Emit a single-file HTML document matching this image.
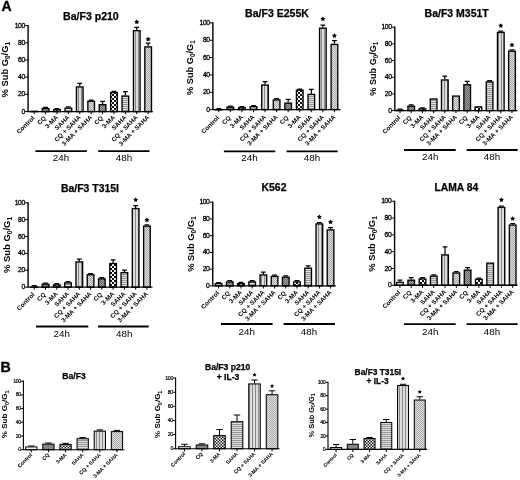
<!DOCTYPE html>
<html><head><meta charset="utf-8"><style>
html,body{margin:0;padding:0;background:#fff;}
svg{display:block;will-change:transform;}
text{font-family:"Liberation Sans", sans-serif;fill:#000;}
</style></head><body>
<svg width="520" height="480" viewBox="0 0 520 480">
<defs>
<pattern id="p_dark" patternUnits="userSpaceOnUse" width="2" height="2"><rect width="2" height="2" fill="#a0a0a0"/><rect width="1" height="1" fill="#686868"/><rect x="1" y="1" width="1" height="1" fill="#686868"/></pattern>
<pattern id="p_checker" patternUnits="userSpaceOnUse" width="4" height="4"><rect width="4" height="4" fill="#111"/><rect width="2" height="2" fill="#fff"/><rect x="2" y="2" width="2" height="2" fill="#fff"/></pattern>
<pattern id="p_hstripe" patternUnits="userSpaceOnUse" width="4" height="2"><rect width="4" height="2" fill="#e2e2e2"/><rect width="4" height="1" fill="#959595"/></pattern>
<pattern id="p_vstripe" patternUnits="userSpaceOnUse" width="3" height="4"><rect width="3" height="4" fill="#dcdcdc"/><rect width="1" height="4" fill="#8a8a8a"/></pattern>
<pattern id="p_checkerB" patternUnits="userSpaceOnUse" width="3" height="3"><rect width="3" height="3" fill="#111"/><rect width="1.55" height="1.55" fill="#fff"/><rect x="1.5" y="1.5" width="1.55" height="1.55" fill="#fff"/></pattern>
<pattern id="p_darkB" patternUnits="userSpaceOnUse" width="2" height="2"><rect width="2" height="2" fill="#939393"/><rect width="1" height="1" fill="#7a7a7a"/><rect x="1" y="1" width="1" height="1" fill="#7a7a7a"/></pattern>
<pattern id="p_ldots" patternUnits="userSpaceOnUse" width="2" height="2"><rect width="2" height="2" fill="#e0e0e0"/><rect width="1" height="1" fill="#a8a8a8"/><rect x="1" y="1" width="1" height="1" fill="#a8a8a8"/></pattern>
</defs>
<rect width="520" height="480" fill="#fff"/>
<text x="1.4" y="10.8" font-size="14" font-weight="bold" stroke="#000" stroke-width="0.35">A</text>
<text x="0.6" y="371.5" font-size="14.2" font-weight="bold" stroke="#000" stroke-width="0.35">B</text>
<g><text x="90.9" y="19.8" font-size="10.55" font-weight="bold" text-anchor="middle" stroke="#000" stroke-width="0.25">Ba/F3 p210</text>
<text transform="translate(8.2,69.7) rotate(-90)" font-size="9.36" font-weight="bold" text-anchor="middle">% Sub G<tspan font-size="6.46" dy="2.09">0</tspan><tspan dy="-2.09">/G</tspan><tspan font-size="6.46" dy="2.09">1</tspan></text>
<rect x="30.85" y="111.27" width="6.65" height="0.33" fill="#fff" stroke="#000" stroke-width="1.35"/>
<path d="M34.18,111.6V114.2" stroke="#000" stroke-width="1"/>
<text transform="translate(34.98,118.5) rotate(-45)" font-size="6.3" font-weight="bold" text-anchor="end" stroke="#000" stroke-width="0.0">Control</text>
<path d="M45.58,107.9V107.3M43.18,107.3H47.98" stroke="#000" stroke-width="1.25" fill="none"/>
<rect x="42.25" y="108.58" width="6.65" height="3.02" fill="url(#p_dark)" stroke="#000" stroke-width="1.35"/>
<path d="M45.58,111.6V114.2" stroke="#000" stroke-width="1"/>
<text transform="translate(46.38,118.5) rotate(-45)" font-size="6.3" font-weight="bold" text-anchor="end" stroke="#000" stroke-width="0.0">CQ</text>
<path d="M56.97,109.1V108.6M54.57,108.6H59.37" stroke="#000" stroke-width="1.25" fill="none"/>
<rect x="53.65" y="109.77" width="6.65" height="1.83" fill="url(#p_checker)" stroke="#000" stroke-width="1.35"/>
<path d="M56.97,111.6V114.2" stroke="#000" stroke-width="1"/>
<text transform="translate(58.48,117.79) rotate(-45)" font-size="6.3" font-weight="bold" text-anchor="end" stroke="#000" stroke-width="0.0">3-MA</text>
<path d="M68.37,107.5V106.8M65.97,106.8H70.77" stroke="#000" stroke-width="1.25" fill="none"/>
<rect x="65.05" y="108.17" width="6.65" height="3.42" fill="url(#p_hstripe)" stroke="#000" stroke-width="1.35"/>
<path d="M68.37,111.6V114.2" stroke="#000" stroke-width="1"/>
<text transform="translate(69.88,117.79) rotate(-45)" font-size="6.3" font-weight="bold" text-anchor="end" stroke="#000" stroke-width="0.0">SAHA</text>
<path d="M79.77,86.25V83.4M77.37,83.4H82.17" stroke="#000" stroke-width="1.25" fill="none"/>
<rect x="76.44" y="86.92" width="6.65" height="24.67" fill="url(#p_vstripe)" stroke="#000" stroke-width="1.35"/>
<path d="M79.77,111.6V114.2" stroke="#000" stroke-width="1"/>
<text transform="translate(81.28,117.79) rotate(-45)" font-size="6.3" font-weight="bold" text-anchor="end" stroke="#000" stroke-width="0.0">CQ + SAHA</text>
<path d="M91.17,100.6V100M88.77,100H93.57" stroke="#000" stroke-width="1.25" fill="none"/>
<rect x="87.84" y="101.27" width="6.65" height="10.33" fill="url(#p_ldots)" stroke="#000" stroke-width="1.35"/>
<path d="M91.17,111.6V114.2" stroke="#000" stroke-width="1"/>
<text transform="translate(92.68,117.79) rotate(-45)" font-size="6.3" font-weight="bold" text-anchor="end" stroke="#000" stroke-width="0.0">3-MA + SAHA</text>
<path d="M102.57,104V101.25M100.17,101.25H104.97" stroke="#000" stroke-width="1.25" fill="none"/>
<rect x="99.24" y="104.67" width="6.65" height="6.92" fill="url(#p_dark)" stroke="#000" stroke-width="1.35"/>
<path d="M102.57,111.6V114.2" stroke="#000" stroke-width="1"/>
<text transform="translate(103.37,118.5) rotate(-45)" font-size="6.3" font-weight="bold" text-anchor="end" stroke="#000" stroke-width="0.0">CQ</text>
<path d="M113.96,91.9V91.4M111.56,91.4H116.36" stroke="#000" stroke-width="1.25" fill="none"/>
<rect x="110.64" y="92.58" width="6.65" height="19.02" fill="url(#p_checker)" stroke="#000" stroke-width="1.35"/>
<path d="M113.96,111.6V114.2" stroke="#000" stroke-width="1"/>
<text transform="translate(115.47,117.79) rotate(-45)" font-size="6.3" font-weight="bold" text-anchor="end" stroke="#000" stroke-width="0.0">3-MA</text>
<path d="M125.36,95.4V91.5M122.96,91.5H127.76" stroke="#000" stroke-width="1.25" fill="none"/>
<rect x="122.04" y="96.08" width="6.65" height="15.52" fill="url(#p_hstripe)" stroke="#000" stroke-width="1.35"/>
<path d="M125.36,111.6V114.2" stroke="#000" stroke-width="1"/>
<text transform="translate(126.87,117.79) rotate(-45)" font-size="6.3" font-weight="bold" text-anchor="end" stroke="#000" stroke-width="0.0">SAHA</text>
<path d="M136.76,30V27.3M134.36,27.3H139.16" stroke="#000" stroke-width="1.25" fill="none"/>
<rect x="133.44" y="30.68" width="6.65" height="80.92" fill="url(#p_vstripe)" stroke="#000" stroke-width="1.35"/>
<path d="M136.76,19.45 L137.59,20.87 L139.19,21.21 L138.09,22.43 L138.26,24.06 L136.76,23.40 L135.26,24.06 L135.43,22.43 L134.34,21.21 L135.94,20.87Z" fill="#000"/>
<path d="M136.76,111.6V114.2" stroke="#000" stroke-width="1"/>
<text transform="translate(138.27,117.79) rotate(-45)" font-size="6.3" font-weight="bold" text-anchor="end" stroke="#000" stroke-width="0.0">CQ + SAHA</text>
<path d="M148.16,46.25V43.1M145.76,43.1H150.56" stroke="#000" stroke-width="1.25" fill="none"/>
<rect x="144.83" y="46.92" width="6.65" height="64.67" fill="url(#p_ldots)" stroke="#000" stroke-width="1.35"/>
<path d="M148.16,36.70 L148.98,38.12 L150.58,38.46 L149.49,39.68 L149.66,41.31 L148.16,40.65 L146.66,41.31 L146.83,39.68 L145.73,38.46 L147.33,38.12Z" fill="#000"/>
<path d="M148.16,111.6V114.2" stroke="#000" stroke-width="1"/>
<text transform="translate(149.67,117.79) rotate(-45)" font-size="6.3" font-weight="bold" text-anchor="end" stroke="#000" stroke-width="0.0">3-MA + SAHA</text>
<path d="M28.1,25V111.6H152.8" stroke="#000" stroke-width="1.4" fill="none"/>
<path d="M24.9,111.6H28.1" stroke="#000" stroke-width="1"/>
<text x="24.82" y="113.64" font-size="6.8" font-weight="normal" text-anchor="end" letter-spacing="-0.42" stroke="#000" stroke-width="0.3">0</text>
<path d="M24.9,94.4H28.1" stroke="#000" stroke-width="1"/>
<text x="24.82" y="96.44" font-size="6.8" font-weight="normal" text-anchor="end" letter-spacing="-0.42" stroke="#000" stroke-width="0.3">20</text>
<path d="M24.9,77.2H28.1" stroke="#000" stroke-width="1"/>
<text x="24.82" y="79.24" font-size="6.8" font-weight="normal" text-anchor="end" letter-spacing="-0.42" stroke="#000" stroke-width="0.3">40</text>
<path d="M24.9,60H28.1" stroke="#000" stroke-width="1"/>
<text x="24.82" y="62.04" font-size="6.8" font-weight="normal" text-anchor="end" letter-spacing="-0.42" stroke="#000" stroke-width="0.3">60</text>
<path d="M24.9,42.8H28.1" stroke="#000" stroke-width="1"/>
<text x="24.82" y="44.84" font-size="6.8" font-weight="normal" text-anchor="end" letter-spacing="-0.42" stroke="#000" stroke-width="0.3">80</text>
<path d="M24.9,25.6H28.1" stroke="#000" stroke-width="1"/>
<text x="24.82" y="27.64" font-size="6.8" font-weight="normal" text-anchor="end" letter-spacing="-0.42" stroke="#000" stroke-width="0.3">100</text>
<path d="M35.4,151.2H86.9" stroke="#000" stroke-width="1.8"/>
<text x="61" y="161.4" font-size="9.8" text-anchor="middle" stroke="#000" stroke-width="0.0">24h</text>
<path d="M98.2,151.2H149.5" stroke="#000" stroke-width="1.8"/>
<text x="124" y="161.4" font-size="9.8" text-anchor="middle" stroke="#000" stroke-width="0.0">48h</text></g>
<g><text x="277" y="16.7" font-size="10.55" font-weight="bold" text-anchor="middle" stroke="#000" stroke-width="0.25">Ba/F3 E255K</text>
<text transform="translate(193.2,67.65) rotate(-90)" font-size="9.26" font-weight="bold" text-anchor="middle">% Sub G<tspan font-size="6.39" dy="2.07">0</tspan><tspan dy="-2.07">/G</tspan><tspan font-size="6.39" dy="2.07">1</tspan></text>
<path d="M218.77,109V108.5M216.37,108.5H221.17" stroke="#000" stroke-width="1.25" fill="none"/>
<rect x="215.44" y="109.67" width="6.65" height="0.2" fill="#fff" stroke="#000" stroke-width="1.35"/>
<path d="M218.77,109.6V112.2" stroke="#000" stroke-width="1"/>
<text transform="translate(219.57,118.25) rotate(-45)" font-size="6.3" font-weight="bold" text-anchor="end" stroke="#000" stroke-width="0.0">Control</text>
<path d="M230.33,106.5V106M227.93,106H232.73" stroke="#000" stroke-width="1.25" fill="none"/>
<rect x="227.01" y="107.17" width="6.65" height="2.42" fill="url(#p_dark)" stroke="#000" stroke-width="1.35"/>
<path d="M230.33,109.6V112.2" stroke="#000" stroke-width="1"/>
<text transform="translate(231.13,118.25) rotate(-45)" font-size="6.3" font-weight="bold" text-anchor="end" stroke="#000" stroke-width="0.0">CQ</text>
<path d="M241.9,107.1V106.5M239.5,106.5H244.3" stroke="#000" stroke-width="1.25" fill="none"/>
<rect x="238.58" y="107.77" width="6.65" height="1.83" fill="url(#p_checker)" stroke="#000" stroke-width="1.35"/>
<path d="M241.9,109.6V112.2" stroke="#000" stroke-width="1"/>
<text transform="translate(243.41,117.54) rotate(-45)" font-size="6.3" font-weight="bold" text-anchor="end" stroke="#000" stroke-width="0.0">3-MA</text>
<path d="M253.47,106V105.5M251.07,105.5H255.87" stroke="#000" stroke-width="1.25" fill="none"/>
<rect x="250.14" y="106.67" width="6.65" height="2.92" fill="url(#p_hstripe)" stroke="#000" stroke-width="1.35"/>
<path d="M253.47,109.6V112.2" stroke="#000" stroke-width="1"/>
<text transform="translate(254.98,117.54) rotate(-45)" font-size="6.3" font-weight="bold" text-anchor="end" stroke="#000" stroke-width="0.0">SAHA</text>
<path d="M265.04,84.4V81.5M262.64,81.5H267.44" stroke="#000" stroke-width="1.25" fill="none"/>
<rect x="261.71" y="85.08" width="6.65" height="24.52" fill="url(#p_vstripe)" stroke="#000" stroke-width="1.35"/>
<path d="M265.04,109.6V112.2" stroke="#000" stroke-width="1"/>
<text transform="translate(266.54,117.54) rotate(-45)" font-size="6.3" font-weight="bold" text-anchor="end" stroke="#000" stroke-width="0.0">CQ + SAHA</text>
<path d="M276.6,99.25V98.7M274.2,98.7H279" stroke="#000" stroke-width="1.25" fill="none"/>
<rect x="273.28" y="99.92" width="6.65" height="9.67" fill="url(#p_ldots)" stroke="#000" stroke-width="1.35"/>
<path d="M276.6,109.6V112.2" stroke="#000" stroke-width="1"/>
<text transform="translate(278.11,117.54) rotate(-45)" font-size="6.3" font-weight="bold" text-anchor="end" stroke="#000" stroke-width="0.0">3-MA + SAHA</text>
<path d="M288.17,102.5V99.25M285.77,99.25H290.57" stroke="#000" stroke-width="1.25" fill="none"/>
<rect x="284.85" y="103.17" width="6.65" height="6.42" fill="url(#p_dark)" stroke="#000" stroke-width="1.35"/>
<path d="M288.17,109.6V112.2" stroke="#000" stroke-width="1"/>
<text transform="translate(288.97,118.25) rotate(-45)" font-size="6.3" font-weight="bold" text-anchor="end" stroke="#000" stroke-width="0.0">CQ</text>
<path d="M299.74,89.5V89M297.34,89H302.14" stroke="#000" stroke-width="1.25" fill="none"/>
<rect x="296.42" y="90.17" width="6.65" height="19.42" fill="url(#p_checker)" stroke="#000" stroke-width="1.35"/>
<path d="M299.74,109.6V112.2" stroke="#000" stroke-width="1"/>
<text transform="translate(301.25,117.54) rotate(-45)" font-size="6.3" font-weight="bold" text-anchor="end" stroke="#000" stroke-width="0.0">3-MA</text>
<path d="M311.31,93.75V89.25M308.91,89.25H313.71" stroke="#000" stroke-width="1.25" fill="none"/>
<rect x="307.98" y="94.42" width="6.65" height="15.17" fill="url(#p_hstripe)" stroke="#000" stroke-width="1.35"/>
<path d="M311.31,109.6V112.2" stroke="#000" stroke-width="1"/>
<text transform="translate(312.81,117.54) rotate(-45)" font-size="6.3" font-weight="bold" text-anchor="end" stroke="#000" stroke-width="0.0">SAHA</text>
<path d="M322.88,27.5V25M320.48,25H325.28" stroke="#000" stroke-width="1.25" fill="none"/>
<rect x="319.55" y="28.18" width="6.65" height="81.42" fill="url(#p_vstripe)" stroke="#000" stroke-width="1.35"/>
<path d="M322.88,16.45 L323.70,17.87 L325.30,18.21 L324.21,19.43 L324.37,21.06 L322.88,20.40 L321.38,21.06 L321.54,19.43 L320.45,18.21 L322.05,17.87Z" fill="#000"/>
<path d="M322.88,109.6V112.2" stroke="#000" stroke-width="1"/>
<text transform="translate(324.38,117.54) rotate(-45)" font-size="6.3" font-weight="bold" text-anchor="end" stroke="#000" stroke-width="0.0">CQ + SAHA</text>
<path d="M334.44,43.75V40.5M332.04,40.5H336.84" stroke="#000" stroke-width="1.25" fill="none"/>
<rect x="331.12" y="44.42" width="6.65" height="65.17" fill="url(#p_ldots)" stroke="#000" stroke-width="1.35"/>
<path d="M334.44,33.20 L335.27,34.62 L336.87,34.96 L335.78,36.18 L335.94,37.81 L334.44,37.15 L332.94,37.81 L333.11,36.18 L332.02,34.96 L333.62,34.62Z" fill="#000"/>
<path d="M334.44,109.6V112.2" stroke="#000" stroke-width="1"/>
<text transform="translate(335.95,117.54) rotate(-45)" font-size="6.3" font-weight="bold" text-anchor="end" stroke="#000" stroke-width="0.0">3-MA + SAHA</text>
<path d="M212.9,22.3V109.6H340.5" stroke="#000" stroke-width="1.4" fill="none"/>
<path d="M209.7,109.6H212.9" stroke="#000" stroke-width="1"/>
<text x="209.62" y="111.64" font-size="6.8" font-weight="normal" text-anchor="end" letter-spacing="-0.42" stroke="#000" stroke-width="0.3">0</text>
<path d="M209.7,92.26H212.9" stroke="#000" stroke-width="1"/>
<text x="209.62" y="94.3" font-size="6.8" font-weight="normal" text-anchor="end" letter-spacing="-0.42" stroke="#000" stroke-width="0.3">20</text>
<path d="M209.7,74.92H212.9" stroke="#000" stroke-width="1"/>
<text x="209.62" y="76.96" font-size="6.8" font-weight="normal" text-anchor="end" letter-spacing="-0.42" stroke="#000" stroke-width="0.3">40</text>
<path d="M209.7,57.58H212.9" stroke="#000" stroke-width="1"/>
<text x="209.62" y="59.62" font-size="6.8" font-weight="normal" text-anchor="end" letter-spacing="-0.42" stroke="#000" stroke-width="0.3">60</text>
<path d="M209.7,40.24H212.9" stroke="#000" stroke-width="1"/>
<text x="209.62" y="42.28" font-size="6.8" font-weight="normal" text-anchor="end" letter-spacing="-0.42" stroke="#000" stroke-width="0.3">80</text>
<path d="M209.7,22.9H212.9" stroke="#000" stroke-width="1"/>
<text x="209.62" y="24.94" font-size="6.8" font-weight="normal" text-anchor="end" letter-spacing="-0.42" stroke="#000" stroke-width="0.3">100</text>
<path d="M223.9,151.4H275.3" stroke="#000" stroke-width="1.8"/>
<text x="249.5" y="161.1" font-size="9.8" text-anchor="middle" stroke="#000" stroke-width="0.0">24h</text>
<path d="M286.5,151.4H337.7" stroke="#000" stroke-width="1.8"/>
<text x="312" y="161.1" font-size="9.8" text-anchor="middle" stroke="#000" stroke-width="0.0">48h</text></g>
<g><text x="456.7" y="16.7" font-size="10.5" font-weight="bold" text-anchor="middle" stroke="#000" stroke-width="0.25">Ba/F3 M351T</text>
<text transform="translate(375.9,68.65) rotate(-90)" font-size="9.11" font-weight="bold" text-anchor="middle">% Sub G<tspan font-size="6.29" dy="2.04">0</tspan><tspan dy="-2.04">/G</tspan><tspan font-size="6.29" dy="2.04">1</tspan></text>
<path d="M400.02,109.5V109M397.62,109H402.42" stroke="#000" stroke-width="1.25" fill="none"/>
<rect x="396.7" y="110.17" width="6.65" height="0.42" fill="#fff" stroke="#000" stroke-width="1.35"/>
<path d="M400.02,110.6V113.2" stroke="#000" stroke-width="1"/>
<text transform="translate(400.82,118.3) rotate(-45)" font-size="6.3" font-weight="bold" text-anchor="end" stroke="#000" stroke-width="0.0">Control</text>
<path d="M411.22,105.5V104.8M408.82,104.8H413.62" stroke="#000" stroke-width="1.25" fill="none"/>
<rect x="407.89" y="106.17" width="6.65" height="4.42" fill="url(#p_dark)" stroke="#000" stroke-width="1.35"/>
<path d="M411.22,110.6V113.2" stroke="#000" stroke-width="1"/>
<text transform="translate(412.02,118.3) rotate(-45)" font-size="6.3" font-weight="bold" text-anchor="end" stroke="#000" stroke-width="0.0">CQ</text>
<path d="M422.41,108.25V107.8M420.01,107.8H424.81" stroke="#000" stroke-width="1.25" fill="none"/>
<rect x="419.09" y="108.92" width="6.65" height="1.67" fill="url(#p_checker)" stroke="#000" stroke-width="1.35"/>
<path d="M422.41,110.6V113.2" stroke="#000" stroke-width="1"/>
<text transform="translate(423.92,117.59) rotate(-45)" font-size="6.3" font-weight="bold" text-anchor="end" stroke="#000" stroke-width="0.0">3-MA</text>
<rect x="430.28" y="98.97" width="6.65" height="11.62" fill="url(#p_hstripe)" stroke="#000" stroke-width="1.35"/>
<path d="M433.61,110.6V113.2" stroke="#000" stroke-width="1"/>
<text transform="translate(435.12,117.59) rotate(-45)" font-size="6.3" font-weight="bold" text-anchor="end" stroke="#000" stroke-width="0.0">SAHA</text>
<path d="M444.8,79.3V76.1M442.4,76.1H447.2" stroke="#000" stroke-width="1.25" fill="none"/>
<rect x="441.48" y="79.97" width="6.65" height="30.62" fill="url(#p_vstripe)" stroke="#000" stroke-width="1.35"/>
<path d="M444.8,110.6V113.2" stroke="#000" stroke-width="1"/>
<text transform="translate(446.31,117.59) rotate(-45)" font-size="6.3" font-weight="bold" text-anchor="end" stroke="#000" stroke-width="0.0">CQ + SAHA</text>
<rect x="452.68" y="96.08" width="6.65" height="14.52" fill="url(#p_ldots)" stroke="#000" stroke-width="1.35"/>
<path d="M456,110.6V113.2" stroke="#000" stroke-width="1"/>
<text transform="translate(457.51,117.59) rotate(-45)" font-size="6.3" font-weight="bold" text-anchor="end" stroke="#000" stroke-width="0.0">3-MA + SAHA</text>
<path d="M467.2,84.1V81.25M464.8,81.25H469.6" stroke="#000" stroke-width="1.25" fill="none"/>
<rect x="463.87" y="84.77" width="6.65" height="25.83" fill="url(#p_dark)" stroke="#000" stroke-width="1.35"/>
<path d="M467.2,110.6V113.2" stroke="#000" stroke-width="1"/>
<text transform="translate(468,118.3) rotate(-45)" font-size="6.3" font-weight="bold" text-anchor="end" stroke="#000" stroke-width="0.0">CQ</text>
<rect x="475.07" y="106.88" width="6.65" height="3.72" fill="url(#p_checker)" stroke="#000" stroke-width="1.35"/>
<path d="M478.39,110.6V113.2" stroke="#000" stroke-width="1"/>
<text transform="translate(479.9,117.59) rotate(-45)" font-size="6.3" font-weight="bold" text-anchor="end" stroke="#000" stroke-width="0.0">3-MA</text>
<path d="M489.59,81.25V80.6M487.19,80.6H491.99" stroke="#000" stroke-width="1.25" fill="none"/>
<rect x="486.26" y="81.92" width="6.65" height="28.67" fill="url(#p_hstripe)" stroke="#000" stroke-width="1.35"/>
<path d="M489.59,110.6V113.2" stroke="#000" stroke-width="1"/>
<text transform="translate(491.09,117.59) rotate(-45)" font-size="6.3" font-weight="bold" text-anchor="end" stroke="#000" stroke-width="0.0">SAHA</text>
<path d="M500.78,31.75V31M498.38,31H503.18" stroke="#000" stroke-width="1.25" fill="none"/>
<rect x="497.46" y="32.42" width="6.65" height="78.17" fill="url(#p_vstripe)" stroke="#000" stroke-width="1.35"/>
<path d="M500.78,23.20 L501.61,24.62 L503.21,24.96 L502.12,26.18 L502.28,27.81 L500.78,27.15 L499.28,27.81 L499.45,26.18 L498.36,24.96 L499.96,24.62Z" fill="#000"/>
<path d="M500.78,110.6V113.2" stroke="#000" stroke-width="1"/>
<text transform="translate(502.29,117.59) rotate(-45)" font-size="6.3" font-weight="bold" text-anchor="end" stroke="#000" stroke-width="0.0">CQ + SAHA</text>
<path d="M511.98,50.5V49.8M509.58,49.8H514.38" stroke="#000" stroke-width="1.25" fill="none"/>
<rect x="508.65" y="51.17" width="6.65" height="59.42" fill="url(#p_ldots)" stroke="#000" stroke-width="1.35"/>
<path d="M511.98,42.45 L512.80,43.87 L514.40,44.21 L513.31,45.43 L513.48,47.06 L511.98,46.40 L510.48,47.06 L510.64,45.43 L509.55,44.21 L511.15,43.87Z" fill="#000"/>
<path d="M511.98,110.6V113.2" stroke="#000" stroke-width="1"/>
<text transform="translate(513.48,117.59) rotate(-45)" font-size="6.3" font-weight="bold" text-anchor="end" stroke="#000" stroke-width="0.0">3-MA + SAHA</text>
<path d="M394.8,26.6V110.6H517.5" stroke="#000" stroke-width="1.4" fill="none"/>
<path d="M391.6,110.6H394.8" stroke="#000" stroke-width="1"/>
<text x="391.52" y="112.64" font-size="6.8" font-weight="normal" text-anchor="end" letter-spacing="-0.42" stroke="#000" stroke-width="0.3">0</text>
<path d="M391.6,93.92H394.8" stroke="#000" stroke-width="1"/>
<text x="391.52" y="95.96" font-size="6.8" font-weight="normal" text-anchor="end" letter-spacing="-0.42" stroke="#000" stroke-width="0.3">20</text>
<path d="M391.6,77.24H394.8" stroke="#000" stroke-width="1"/>
<text x="391.52" y="79.28" font-size="6.8" font-weight="normal" text-anchor="end" letter-spacing="-0.42" stroke="#000" stroke-width="0.3">40</text>
<path d="M391.6,60.56H394.8" stroke="#000" stroke-width="1"/>
<text x="391.52" y="62.6" font-size="6.8" font-weight="normal" text-anchor="end" letter-spacing="-0.42" stroke="#000" stroke-width="0.3">60</text>
<path d="M391.6,43.88H394.8" stroke="#000" stroke-width="1"/>
<text x="391.52" y="45.92" font-size="6.8" font-weight="normal" text-anchor="end" letter-spacing="-0.42" stroke="#000" stroke-width="0.3">80</text>
<path d="M391.6,27.2H394.8" stroke="#000" stroke-width="1"/>
<text x="391.52" y="29.24" font-size="6.8" font-weight="normal" text-anchor="end" letter-spacing="-0.42" stroke="#000" stroke-width="0.3">100</text>
<path d="M404,150H455.7" stroke="#000" stroke-width="1.8"/>
<text x="430.2" y="160" font-size="9.8" text-anchor="middle" stroke="#000" stroke-width="0.0">24h</text>
<path d="M466.6,150H517.7" stroke="#000" stroke-width="1.8"/>
<text x="492" y="160" font-size="9.8" text-anchor="middle" stroke="#000" stroke-width="0.0">48h</text></g>
<g><text x="90" y="191.6" font-size="10.45" font-weight="bold" text-anchor="middle" stroke="#000" stroke-width="0.25">Ba/F3 T315I</text>
<text transform="translate(9.8,245) rotate(-90)" font-size="9.46" font-weight="bold" text-anchor="middle">% Sub G<tspan font-size="6.53" dy="2.11">0</tspan><tspan dy="-2.11">/G</tspan><tspan font-size="6.53" dy="2.11">1</tspan></text>
<path d="M34.23,286.25V285.7M31.83,285.7H36.63" stroke="#000" stroke-width="1.25" fill="none"/>
<rect x="30.91" y="286.93" width="6.65" height="0.2" fill="#fff" stroke="#000" stroke-width="1.35"/>
<path d="M34.23,287.1V289.7" stroke="#000" stroke-width="1"/>
<text transform="translate(35.03,295.1) rotate(-45)" font-size="6.3" font-weight="bold" text-anchor="end" stroke="#000" stroke-width="0.0">Control</text>
<path d="M45.5,283.5V283M43.1,283H47.9" stroke="#000" stroke-width="1.25" fill="none"/>
<rect x="42.18" y="284.18" width="6.65" height="2.93" fill="url(#p_dark)" stroke="#000" stroke-width="1.35"/>
<path d="M45.5,287.1V289.7" stroke="#000" stroke-width="1"/>
<text transform="translate(46.3,295.1) rotate(-45)" font-size="6.3" font-weight="bold" text-anchor="end" stroke="#000" stroke-width="0.0">CQ</text>
<path d="M56.77,284.25V283.7M54.37,283.7H59.17" stroke="#000" stroke-width="1.25" fill="none"/>
<rect x="53.45" y="284.93" width="6.65" height="2.18" fill="url(#p_checker)" stroke="#000" stroke-width="1.35"/>
<path d="M56.77,287.1V289.7" stroke="#000" stroke-width="1"/>
<text transform="translate(58.28,294.39) rotate(-45)" font-size="6.3" font-weight="bold" text-anchor="end" stroke="#000" stroke-width="0.0">3-MA</text>
<path d="M68.04,282.25V281.6M65.64,281.6H70.44" stroke="#000" stroke-width="1.25" fill="none"/>
<rect x="64.71" y="282.93" width="6.65" height="4.18" fill="url(#p_hstripe)" stroke="#000" stroke-width="1.35"/>
<path d="M68.04,287.1V289.7" stroke="#000" stroke-width="1"/>
<text transform="translate(69.55,294.39) rotate(-45)" font-size="6.3" font-weight="bold" text-anchor="end" stroke="#000" stroke-width="0.0">SAHA</text>
<path d="M79.31,261.25V259M76.91,259H81.71" stroke="#000" stroke-width="1.25" fill="none"/>
<rect x="75.98" y="261.93" width="6.65" height="25.18" fill="url(#p_vstripe)" stroke="#000" stroke-width="1.35"/>
<path d="M79.31,287.1V289.7" stroke="#000" stroke-width="1"/>
<text transform="translate(80.82,294.39) rotate(-45)" font-size="6.3" font-weight="bold" text-anchor="end" stroke="#000" stroke-width="0.0">CQ + SAHA</text>
<path d="M90.58,274.1V273.5M88.18,273.5H92.98" stroke="#000" stroke-width="1.25" fill="none"/>
<rect x="87.25" y="274.78" width="6.65" height="12.32" fill="url(#p_ldots)" stroke="#000" stroke-width="1.35"/>
<path d="M90.58,287.1V289.7" stroke="#000" stroke-width="1"/>
<text transform="translate(92.08,294.39) rotate(-45)" font-size="6.3" font-weight="bold" text-anchor="end" stroke="#000" stroke-width="0.0">3-MA + SAHA</text>
<path d="M101.85,278.2V277.6M99.45,277.6H104.25" stroke="#000" stroke-width="1.25" fill="none"/>
<rect x="98.52" y="278.88" width="6.65" height="8.23" fill="url(#p_dark)" stroke="#000" stroke-width="1.35"/>
<path d="M101.85,287.1V289.7" stroke="#000" stroke-width="1"/>
<text transform="translate(102.65,295.1) rotate(-45)" font-size="6.3" font-weight="bold" text-anchor="end" stroke="#000" stroke-width="0.0">CQ</text>
<path d="M113.12,262.9V259.9M110.72,259.9H115.52" stroke="#000" stroke-width="1.25" fill="none"/>
<rect x="109.79" y="263.57" width="6.65" height="23.53" fill="url(#p_checker)" stroke="#000" stroke-width="1.35"/>
<path d="M113.12,287.1V289.7" stroke="#000" stroke-width="1"/>
<text transform="translate(114.62,294.39) rotate(-45)" font-size="6.3" font-weight="bold" text-anchor="end" stroke="#000" stroke-width="0.0">3-MA</text>
<path d="M124.38,272V270.2M121.98,270.2H126.78" stroke="#000" stroke-width="1.25" fill="none"/>
<rect x="121.06" y="272.68" width="6.65" height="14.43" fill="url(#p_hstripe)" stroke="#000" stroke-width="1.35"/>
<path d="M124.38,287.1V289.7" stroke="#000" stroke-width="1"/>
<text transform="translate(125.89,294.39) rotate(-45)" font-size="6.3" font-weight="bold" text-anchor="end" stroke="#000" stroke-width="0.0">SAHA</text>
<path d="M135.65,207.9V205.6M133.25,205.6H138.05" stroke="#000" stroke-width="1.25" fill="none"/>
<rect x="132.33" y="208.58" width="6.65" height="78.53" fill="url(#p_vstripe)" stroke="#000" stroke-width="1.35"/>
<path d="M135.65,197.25 L136.48,198.67 L138.08,199.01 L136.99,200.23 L137.15,201.86 L135.65,201.20 L134.15,201.86 L134.32,200.23 L133.23,199.01 L134.83,198.67Z" fill="#000"/>
<path d="M135.65,287.1V289.7" stroke="#000" stroke-width="1"/>
<text transform="translate(137.16,294.39) rotate(-45)" font-size="6.3" font-weight="bold" text-anchor="end" stroke="#000" stroke-width="0.0">CQ + SAHA</text>
<path d="M146.92,225.5V224.8M144.52,224.8H149.32" stroke="#000" stroke-width="1.25" fill="none"/>
<rect x="143.6" y="226.18" width="6.65" height="60.93" fill="url(#p_ldots)" stroke="#000" stroke-width="1.35"/>
<path d="M146.92,217.45 L147.75,218.87 L149.35,219.21 L148.26,220.43 L148.42,222.06 L146.92,221.40 L145.42,222.06 L145.59,220.43 L144.50,219.21 L146.10,218.87Z" fill="#000"/>
<path d="M146.92,287.1V289.7" stroke="#000" stroke-width="1"/>
<text transform="translate(148.43,294.39) rotate(-45)" font-size="6.3" font-weight="bold" text-anchor="end" stroke="#000" stroke-width="0.0">3-MA + SAHA</text>
<path d="M28.1,202.2V287.1H152.5" stroke="#000" stroke-width="1.4" fill="none"/>
<path d="M24.9,287.1H28.1" stroke="#000" stroke-width="1"/>
<text x="24.82" y="289.14" font-size="6.8" font-weight="normal" text-anchor="end" letter-spacing="-0.42" stroke="#000" stroke-width="0.3">0</text>
<path d="M24.9,270.24H28.1" stroke="#000" stroke-width="1"/>
<text x="24.82" y="272.28" font-size="6.8" font-weight="normal" text-anchor="end" letter-spacing="-0.42" stroke="#000" stroke-width="0.3">20</text>
<path d="M24.9,253.38H28.1" stroke="#000" stroke-width="1"/>
<text x="24.82" y="255.42" font-size="6.8" font-weight="normal" text-anchor="end" letter-spacing="-0.42" stroke="#000" stroke-width="0.3">40</text>
<path d="M24.9,236.52H28.1" stroke="#000" stroke-width="1"/>
<text x="24.82" y="238.56" font-size="6.8" font-weight="normal" text-anchor="end" letter-spacing="-0.42" stroke="#000" stroke-width="0.3">60</text>
<path d="M24.9,219.66H28.1" stroke="#000" stroke-width="1"/>
<text x="24.82" y="221.7" font-size="6.8" font-weight="normal" text-anchor="end" letter-spacing="-0.42" stroke="#000" stroke-width="0.3">80</text>
<path d="M24.9,202.8H28.1" stroke="#000" stroke-width="1"/>
<text x="24.82" y="204.84" font-size="6.8" font-weight="normal" text-anchor="end" letter-spacing="-0.42" stroke="#000" stroke-width="0.3">100</text>
<path d="M36,326.5H88.3" stroke="#000" stroke-width="1.8"/>
<text x="61.8" y="336.8" font-size="9.8" text-anchor="middle" stroke="#000" stroke-width="0.0">24h</text>
<path d="M98,326.5H148.7" stroke="#000" stroke-width="1.8"/>
<text x="124.2" y="336.8" font-size="9.8" text-anchor="middle" stroke="#000" stroke-width="0.0">48h</text></g>
<g><text x="274" y="191.3" font-size="10.4" font-weight="bold" text-anchor="middle" stroke="#000" stroke-width="0.25">K562</text>
<text transform="translate(194.2,244.1) rotate(-90)" font-size="9.36" font-weight="bold" text-anchor="middle">% Sub G<tspan font-size="6.46" dy="2.09">0</tspan><tspan dy="-2.09">/G</tspan><tspan font-size="6.46" dy="2.09">1</tspan></text>
<path d="M218.59,283V282.5M216.19,282.5H220.99" stroke="#000" stroke-width="1.25" fill="none"/>
<rect x="215.27" y="283.68" width="6.65" height="2.22" fill="#fff" stroke="#000" stroke-width="1.35"/>
<path d="M218.59,285.9V288.5" stroke="#000" stroke-width="1"/>
<text transform="translate(219.39,293.55) rotate(-45)" font-size="6.3" font-weight="bold" text-anchor="end" stroke="#000" stroke-width="0.0">Control</text>
<path d="M229.79,281.25V280.6M227.39,280.6H232.19" stroke="#000" stroke-width="1.25" fill="none"/>
<rect x="226.46" y="281.93" width="6.65" height="3.97" fill="url(#p_dark)" stroke="#000" stroke-width="1.35"/>
<path d="M229.79,285.9V288.5" stroke="#000" stroke-width="1"/>
<text transform="translate(230.59,293.55) rotate(-45)" font-size="6.3" font-weight="bold" text-anchor="end" stroke="#000" stroke-width="0.0">CQ</text>
<path d="M240.98,283V282.4M238.58,282.4H243.38" stroke="#000" stroke-width="1.25" fill="none"/>
<rect x="237.66" y="283.68" width="6.65" height="2.22" fill="url(#p_checker)" stroke="#000" stroke-width="1.35"/>
<path d="M240.98,285.9V288.5" stroke="#000" stroke-width="1"/>
<text transform="translate(242.49,292.84) rotate(-45)" font-size="6.3" font-weight="bold" text-anchor="end" stroke="#000" stroke-width="0.0">3-MA</text>
<path d="M252.18,281.25V280.6M249.78,280.6H254.58" stroke="#000" stroke-width="1.25" fill="none"/>
<rect x="248.85" y="281.93" width="6.65" height="3.97" fill="url(#p_hstripe)" stroke="#000" stroke-width="1.35"/>
<path d="M252.18,285.9V288.5" stroke="#000" stroke-width="1"/>
<text transform="translate(253.68,292.84) rotate(-45)" font-size="6.3" font-weight="bold" text-anchor="end" stroke="#000" stroke-width="0.0">SAHA</text>
<path d="M263.37,274.25V272M260.97,272H265.77" stroke="#000" stroke-width="1.25" fill="none"/>
<rect x="260.05" y="274.93" width="6.65" height="10.97" fill="url(#p_vstripe)" stroke="#000" stroke-width="1.35"/>
<path d="M263.37,285.9V288.5" stroke="#000" stroke-width="1"/>
<text transform="translate(264.88,292.84) rotate(-45)" font-size="6.3" font-weight="bold" text-anchor="end" stroke="#000" stroke-width="0.0">CQ + SAHA</text>
<path d="M274.57,275.75V275.1M272.17,275.1H276.97" stroke="#000" stroke-width="1.25" fill="none"/>
<rect x="271.24" y="276.43" width="6.65" height="9.47" fill="url(#p_ldots)" stroke="#000" stroke-width="1.35"/>
<path d="M274.57,285.9V288.5" stroke="#000" stroke-width="1"/>
<text transform="translate(276.08,292.84) rotate(-45)" font-size="6.3" font-weight="bold" text-anchor="end" stroke="#000" stroke-width="0.0">3-MA + SAHA</text>
<path d="M285.76,276.5V275.8M283.36,275.8H288.16" stroke="#000" stroke-width="1.25" fill="none"/>
<rect x="282.44" y="277.18" width="6.65" height="8.72" fill="url(#p_dark)" stroke="#000" stroke-width="1.35"/>
<path d="M285.76,285.9V288.5" stroke="#000" stroke-width="1"/>
<text transform="translate(286.56,293.55) rotate(-45)" font-size="6.3" font-weight="bold" text-anchor="end" stroke="#000" stroke-width="0.0">CQ</text>
<path d="M296.96,281.25V280.6M294.56,280.6H299.36" stroke="#000" stroke-width="1.25" fill="none"/>
<rect x="293.63" y="281.93" width="6.65" height="3.97" fill="url(#p_checker)" stroke="#000" stroke-width="1.35"/>
<path d="M296.96,285.9V288.5" stroke="#000" stroke-width="1"/>
<text transform="translate(298.47,292.84) rotate(-45)" font-size="6.3" font-weight="bold" text-anchor="end" stroke="#000" stroke-width="0.0">3-MA</text>
<path d="M308.15,267.5V265.75M305.75,265.75H310.55" stroke="#000" stroke-width="1.25" fill="none"/>
<rect x="304.83" y="268.18" width="6.65" height="17.72" fill="url(#p_hstripe)" stroke="#000" stroke-width="1.35"/>
<path d="M308.15,285.9V288.5" stroke="#000" stroke-width="1"/>
<text transform="translate(309.66,292.84) rotate(-45)" font-size="6.3" font-weight="bold" text-anchor="end" stroke="#000" stroke-width="0.0">SAHA</text>
<path d="M319.35,223.25V222.6M316.95,222.6H321.75" stroke="#000" stroke-width="1.25" fill="none"/>
<rect x="316.03" y="223.93" width="6.65" height="61.97" fill="url(#p_vstripe)" stroke="#000" stroke-width="1.35"/>
<path d="M319.35,214.45 L320.17,215.87 L321.78,216.21 L320.68,217.43 L320.85,219.06 L319.35,218.40 L317.85,219.06 L318.02,217.43 L316.92,216.21 L318.53,215.87Z" fill="#000"/>
<path d="M319.35,285.9V288.5" stroke="#000" stroke-width="1"/>
<text transform="translate(320.86,292.84) rotate(-45)" font-size="6.3" font-weight="bold" text-anchor="end" stroke="#000" stroke-width="0.0">CQ + SAHA</text>
<path d="M330.55,229.25V227.5M328.15,227.5H332.95" stroke="#000" stroke-width="1.25" fill="none"/>
<rect x="327.22" y="229.93" width="6.65" height="55.97" fill="url(#p_ldots)" stroke="#000" stroke-width="1.35"/>
<path d="M330.55,219.45 L331.37,220.87 L332.97,221.21 L331.88,222.43 L332.04,224.06 L330.55,223.40 L329.05,224.06 L329.21,222.43 L328.12,221.21 L329.72,220.87Z" fill="#000"/>
<path d="M330.55,285.9V288.5" stroke="#000" stroke-width="1"/>
<text transform="translate(332.05,292.84) rotate(-45)" font-size="6.3" font-weight="bold" text-anchor="end" stroke="#000" stroke-width="0.0">3-MA + SAHA</text>
<path d="M212.75,201.6V285.9H335.8" stroke="#000" stroke-width="1.4" fill="none"/>
<path d="M209.55,285.9H212.75" stroke="#000" stroke-width="1"/>
<text x="209.47" y="287.94" font-size="6.8" font-weight="normal" text-anchor="end" letter-spacing="-0.42" stroke="#000" stroke-width="0.3">0</text>
<path d="M209.55,269.16H212.75" stroke="#000" stroke-width="1"/>
<text x="209.47" y="271.2" font-size="6.8" font-weight="normal" text-anchor="end" letter-spacing="-0.42" stroke="#000" stroke-width="0.3">20</text>
<path d="M209.55,252.42H212.75" stroke="#000" stroke-width="1"/>
<text x="209.47" y="254.46" font-size="6.8" font-weight="normal" text-anchor="end" letter-spacing="-0.42" stroke="#000" stroke-width="0.3">40</text>
<path d="M209.55,235.68H212.75" stroke="#000" stroke-width="1"/>
<text x="209.47" y="237.72" font-size="6.8" font-weight="normal" text-anchor="end" letter-spacing="-0.42" stroke="#000" stroke-width="0.3">60</text>
<path d="M209.55,218.94H212.75" stroke="#000" stroke-width="1"/>
<text x="209.47" y="220.98" font-size="6.8" font-weight="normal" text-anchor="end" letter-spacing="-0.42" stroke="#000" stroke-width="0.3">80</text>
<path d="M209.55,202.2H212.75" stroke="#000" stroke-width="1"/>
<text x="209.47" y="204.24" font-size="6.8" font-weight="normal" text-anchor="end" letter-spacing="-0.42" stroke="#000" stroke-width="0.3">100</text>
<path d="M221,324H272.6" stroke="#000" stroke-width="1.8"/>
<text x="246.8" y="334.6" font-size="9.8" text-anchor="middle" stroke="#000" stroke-width="0.0">24h</text>
<path d="M283.6,324H335" stroke="#000" stroke-width="1.8"/>
<text x="309" y="334.6" font-size="9.8" text-anchor="middle" stroke="#000" stroke-width="0.0">48h</text></g>
<g><text x="456.4" y="190.7" font-size="10.3" font-weight="bold" text-anchor="middle" stroke="#000" stroke-width="0.25">LAMA 84</text>
<text transform="translate(375.2,244) rotate(-90)" font-size="9.36" font-weight="bold" text-anchor="middle">% Sub G<tspan font-size="6.46" dy="2.09">0</tspan><tspan dy="-2.09">/G</tspan><tspan font-size="6.46" dy="2.09">1</tspan></text>
<path d="M399.95,281.75V280M397.55,280H402.35" stroke="#000" stroke-width="1.25" fill="none"/>
<rect x="396.62" y="282.43" width="6.65" height="2.88" fill="#fff" stroke="#000" stroke-width="1.35"/>
<path d="M399.95,285.3V287.9" stroke="#000" stroke-width="1"/>
<text transform="translate(400.75,293.1) rotate(-45)" font-size="6.3" font-weight="bold" text-anchor="end" stroke="#000" stroke-width="0.0">Control</text>
<path d="M411.22,279.5V277.5M408.82,277.5H413.62" stroke="#000" stroke-width="1.25" fill="none"/>
<rect x="407.9" y="280.18" width="6.65" height="5.12" fill="url(#p_dark)" stroke="#000" stroke-width="1.35"/>
<path d="M411.22,285.3V287.9" stroke="#000" stroke-width="1"/>
<text transform="translate(412.02,293.1) rotate(-45)" font-size="6.3" font-weight="bold" text-anchor="end" stroke="#000" stroke-width="0.0">CQ</text>
<path d="M422.49,278.25V277.6M420.09,277.6H424.89" stroke="#000" stroke-width="1.25" fill="none"/>
<rect x="419.17" y="278.93" width="6.65" height="6.38" fill="url(#p_checker)" stroke="#000" stroke-width="1.35"/>
<path d="M422.49,285.3V287.9" stroke="#000" stroke-width="1"/>
<text transform="translate(424,292.39) rotate(-45)" font-size="6.3" font-weight="bold" text-anchor="end" stroke="#000" stroke-width="0.0">3-MA</text>
<path d="M433.77,275.5V274.9M431.37,274.9H436.17" stroke="#000" stroke-width="1.25" fill="none"/>
<rect x="430.44" y="276.18" width="6.65" height="9.12" fill="url(#p_hstripe)" stroke="#000" stroke-width="1.35"/>
<path d="M433.77,285.3V287.9" stroke="#000" stroke-width="1"/>
<text transform="translate(435.28,292.39) rotate(-45)" font-size="6.3" font-weight="bold" text-anchor="end" stroke="#000" stroke-width="0.0">SAHA</text>
<path d="M445.04,254.25V246.8M442.64,246.8H447.44" stroke="#000" stroke-width="1.25" fill="none"/>
<rect x="441.72" y="254.93" width="6.65" height="30.38" fill="url(#p_vstripe)" stroke="#000" stroke-width="1.35"/>
<path d="M445.04,285.3V287.9" stroke="#000" stroke-width="1"/>
<text transform="translate(446.55,292.39) rotate(-45)" font-size="6.3" font-weight="bold" text-anchor="end" stroke="#000" stroke-width="0.0">CQ + SAHA</text>
<path d="M456.32,272.3V271.7M453.92,271.7H458.72" stroke="#000" stroke-width="1.25" fill="none"/>
<rect x="452.99" y="272.98" width="6.65" height="12.32" fill="url(#p_ldots)" stroke="#000" stroke-width="1.35"/>
<path d="M456.32,285.3V287.9" stroke="#000" stroke-width="1"/>
<text transform="translate(457.83,292.39) rotate(-45)" font-size="6.3" font-weight="bold" text-anchor="end" stroke="#000" stroke-width="0.0">3-MA + SAHA</text>
<path d="M467.59,269.5V267.5M465.19,267.5H469.99" stroke="#000" stroke-width="1.25" fill="none"/>
<rect x="464.27" y="270.18" width="6.65" height="15.12" fill="url(#p_dark)" stroke="#000" stroke-width="1.35"/>
<path d="M467.59,285.3V287.9" stroke="#000" stroke-width="1"/>
<text transform="translate(468.39,293.1) rotate(-45)" font-size="6.3" font-weight="bold" text-anchor="end" stroke="#000" stroke-width="0.0">CQ</text>
<path d="M478.87,278.6V278M476.47,278H481.27" stroke="#000" stroke-width="1.25" fill="none"/>
<rect x="475.54" y="279.28" width="6.65" height="6.02" fill="url(#p_checker)" stroke="#000" stroke-width="1.35"/>
<path d="M478.87,285.3V287.9" stroke="#000" stroke-width="1"/>
<text transform="translate(480.37,292.39) rotate(-45)" font-size="6.3" font-weight="bold" text-anchor="end" stroke="#000" stroke-width="0.0">3-MA</text>
<rect x="486.82" y="263.18" width="6.65" height="22.12" fill="url(#p_hstripe)" stroke="#000" stroke-width="1.35"/>
<path d="M490.14,285.3V287.9" stroke="#000" stroke-width="1"/>
<text transform="translate(491.65,292.39) rotate(-45)" font-size="6.3" font-weight="bold" text-anchor="end" stroke="#000" stroke-width="0.0">SAHA</text>
<path d="M501.42,206.7V206M499.02,206H503.82" stroke="#000" stroke-width="1.25" fill="none"/>
<rect x="498.09" y="207.38" width="6.65" height="77.93" fill="url(#p_vstripe)" stroke="#000" stroke-width="1.35"/>
<path d="M501.42,197.35 L502.24,198.77 L503.84,199.11 L502.75,200.33 L502.92,201.96 L501.42,201.30 L499.92,201.96 L500.08,200.33 L498.99,199.11 L500.59,198.77Z" fill="#000"/>
<path d="M501.42,285.3V287.9" stroke="#000" stroke-width="1"/>
<text transform="translate(502.92,292.39) rotate(-45)" font-size="6.3" font-weight="bold" text-anchor="end" stroke="#000" stroke-width="0.0">CQ + SAHA</text>
<path d="M512.69,224.4V223.7M510.29,223.7H515.09" stroke="#000" stroke-width="1.25" fill="none"/>
<rect x="509.37" y="225.08" width="6.65" height="60.22" fill="url(#p_ldots)" stroke="#000" stroke-width="1.35"/>
<path d="M512.69,216.15 L513.52,217.57 L515.12,217.91 L514.02,219.13 L514.19,220.76 L512.69,220.10 L511.19,220.76 L511.36,219.13 L510.27,217.91 L511.87,217.57Z" fill="#000"/>
<path d="M512.69,285.3V287.9" stroke="#000" stroke-width="1"/>
<text transform="translate(514.2,292.39) rotate(-45)" font-size="6.3" font-weight="bold" text-anchor="end" stroke="#000" stroke-width="0.0">3-MA + SAHA</text>
<path d="M394.6,200.65V285.3H517.5" stroke="#000" stroke-width="1.4" fill="none"/>
<path d="M391.4,285.3H394.6" stroke="#000" stroke-width="1"/>
<text x="391.32" y="287.34" font-size="6.8" font-weight="normal" text-anchor="end" letter-spacing="-0.42" stroke="#000" stroke-width="0.3">0</text>
<path d="M391.4,268.49H394.6" stroke="#000" stroke-width="1"/>
<text x="391.32" y="270.53" font-size="6.8" font-weight="normal" text-anchor="end" letter-spacing="-0.42" stroke="#000" stroke-width="0.3">20</text>
<path d="M391.4,251.68H394.6" stroke="#000" stroke-width="1"/>
<text x="391.32" y="253.72" font-size="6.8" font-weight="normal" text-anchor="end" letter-spacing="-0.42" stroke="#000" stroke-width="0.3">40</text>
<path d="M391.4,234.87H394.6" stroke="#000" stroke-width="1"/>
<text x="391.32" y="236.91" font-size="6.8" font-weight="normal" text-anchor="end" letter-spacing="-0.42" stroke="#000" stroke-width="0.3">60</text>
<path d="M391.4,218.06H394.6" stroke="#000" stroke-width="1"/>
<text x="391.32" y="220.1" font-size="6.8" font-weight="normal" text-anchor="end" letter-spacing="-0.42" stroke="#000" stroke-width="0.3">80</text>
<path d="M391.4,201.25H394.6" stroke="#000" stroke-width="1"/>
<text x="391.32" y="203.29" font-size="6.8" font-weight="normal" text-anchor="end" letter-spacing="-0.42" stroke="#000" stroke-width="0.3">100</text>
<path d="M404,324.1H455.7" stroke="#000" stroke-width="1.8"/>
<text x="430.2" y="334.5" font-size="9.8" text-anchor="middle" stroke="#000" stroke-width="0.0">24h</text>
<path d="M466.6,324.1H517.7" stroke="#000" stroke-width="1.8"/>
<text x="492" y="334.5" font-size="9.8" text-anchor="middle" stroke="#000" stroke-width="0.0">48h</text></g>
<g><text x="74" y="378.8" font-size="8.6" font-weight="bold" text-anchor="middle" stroke="#000" stroke-width="0.25">Ba/F3</text>
<text transform="translate(6.7,414.3) rotate(-90)" font-size="8.08" font-weight="bold" text-anchor="middle">% Sub G<tspan font-size="5.58" dy="1.8">0</tspan><tspan dy="-1.8">/G</tspan><tspan font-size="5.58" dy="1.8">1</tspan></text>
<path d="M31.3,446.4V446M28.1,446H34.5" stroke="#000" stroke-width="1.0" fill="none"/>
<rect x="25.67" y="446.92" width="11.25" height="2.78" fill="#fff" stroke="#000" stroke-width="1.05"/>
<path d="M31.3,449.7V452.3" stroke="#000" stroke-width="1"/>
<text transform="translate(32.5,455.3) rotate(-45)" font-size="5.1" font-weight="bold" text-anchor="end" stroke="#000" stroke-width="0.05">Control</text>
<path d="M48.43,443.6V443M45.23,443H51.63" stroke="#000" stroke-width="1.0" fill="none"/>
<rect x="42.81" y="444.12" width="11.25" height="5.57" fill="url(#p_darkB)" stroke="#000" stroke-width="1.05"/>
<path d="M48.43,449.7V452.3" stroke="#000" stroke-width="1"/>
<text transform="translate(49.63,455.3) rotate(-45)" font-size="5.1" font-weight="bold" text-anchor="end" stroke="#000" stroke-width="0.05">CQ</text>
<path d="M65.57,443.9V443.3M62.37,443.3H68.77" stroke="#000" stroke-width="1.0" fill="none"/>
<rect x="59.94" y="444.42" width="11.25" height="5.28" fill="url(#p_checkerB)" stroke="#000" stroke-width="1.05"/>
<path d="M65.57,449.7V452.3" stroke="#000" stroke-width="1"/>
<text transform="translate(66.77,455.3) rotate(-45)" font-size="5.1" font-weight="bold" text-anchor="end" stroke="#000" stroke-width="0.05">3-MA</text>
<path d="M82.7,438.2V437.6M79.5,437.6H85.9" stroke="#000" stroke-width="1.0" fill="none"/>
<rect x="77.08" y="438.72" width="11.25" height="10.98" fill="url(#p_hstripe)" stroke="#000" stroke-width="1.05"/>
<path d="M82.7,449.7V452.3" stroke="#000" stroke-width="1"/>
<text transform="translate(83.9,455.3) rotate(-45)" font-size="5.1" font-weight="bold" text-anchor="end" stroke="#000" stroke-width="0.05">SAHA</text>
<path d="M99.83,430.6V429.9M96.63,429.9H103.03" stroke="#000" stroke-width="1.0" fill="none"/>
<rect x="94.21" y="431.12" width="11.25" height="18.57" fill="url(#p_vstripe)" stroke="#000" stroke-width="1.05"/>
<path d="M99.83,449.7V452.3" stroke="#000" stroke-width="1"/>
<text transform="translate(101.03,455.3) rotate(-45)" font-size="5.1" font-weight="bold" text-anchor="end" stroke="#000" stroke-width="0.05">CQ + SAHA</text>
<path d="M116.97,431.1V430.4M113.77,430.4H120.17" stroke="#000" stroke-width="1.0" fill="none"/>
<rect x="111.34" y="431.62" width="11.25" height="18.07" fill="url(#p_ldots)" stroke="#000" stroke-width="1.05"/>
<path d="M116.97,449.7V452.3" stroke="#000" stroke-width="1"/>
<text transform="translate(118.17,455.3) rotate(-45)" font-size="5.1" font-weight="bold" text-anchor="end" stroke="#000" stroke-width="0.05">3-MA + SAHA</text>
<path d="M23.4,380.6V449.7H124.5" stroke="#000" stroke-width="1.1" fill="none"/>
<path d="M20.8,449.7H23.4" stroke="#000" stroke-width="1"/>
<text x="20.72" y="451.29" font-size="5.3" font-weight="normal" text-anchor="end" letter-spacing="-0.42" stroke="#000" stroke-width="0.2">0</text>
<path d="M20.8,436H23.4" stroke="#000" stroke-width="1"/>
<text x="20.72" y="437.59" font-size="5.3" font-weight="normal" text-anchor="end" letter-spacing="-0.42" stroke="#000" stroke-width="0.2">20</text>
<path d="M20.8,422.3H23.4" stroke="#000" stroke-width="1"/>
<text x="20.72" y="423.89" font-size="5.3" font-weight="normal" text-anchor="end" letter-spacing="-0.42" stroke="#000" stroke-width="0.2">40</text>
<path d="M20.8,408.6H23.4" stroke="#000" stroke-width="1"/>
<text x="20.72" y="410.19" font-size="5.3" font-weight="normal" text-anchor="end" letter-spacing="-0.42" stroke="#000" stroke-width="0.2">60</text>
<path d="M20.8,394.9H23.4" stroke="#000" stroke-width="1"/>
<text x="20.72" y="396.49" font-size="5.3" font-weight="normal" text-anchor="end" letter-spacing="-0.42" stroke="#000" stroke-width="0.2">80</text>
<path d="M20.8,381.2H23.4" stroke="#000" stroke-width="1"/>
<text x="20.72" y="382.79" font-size="5.3" font-weight="normal" text-anchor="end" letter-spacing="-0.42" stroke="#000" stroke-width="0.2">100</text></g>
<g><text x="227.7" y="370.2" font-size="8.6" font-weight="bold" text-anchor="middle" stroke="#000" stroke-width="0.25">Ba/F3 p210</text>
<text x="228" y="379.5" font-size="8.6" font-weight="bold" text-anchor="middle" stroke="#000" stroke-width="0.25">+ IL-3</text>
<text transform="translate(160.3,414.25) rotate(-90)" font-size="7.98" font-weight="bold" text-anchor="middle">% Sub G<tspan font-size="5.51" dy="1.78">0</tspan><tspan dy="-1.78">/G</tspan><tspan font-size="5.51" dy="1.78">1</tspan></text>
<path d="M184.44,446.2V444.3M181.24,444.3H187.64" stroke="#000" stroke-width="1.0" fill="none"/>
<rect x="178.67" y="446.72" width="11.55" height="2.03" fill="#fff" stroke="#000" stroke-width="1.05"/>
<path d="M184.44,448.75V451.35" stroke="#000" stroke-width="1"/>
<text transform="translate(185.64,454.35) rotate(-45)" font-size="5.1" font-weight="bold" text-anchor="end" stroke="#000" stroke-width="0.05">Control</text>
<path d="M201.97,444.5V443.8M198.77,443.8H205.17" stroke="#000" stroke-width="1.0" fill="none"/>
<rect x="196.19" y="445.02" width="11.55" height="3.73" fill="url(#p_darkB)" stroke="#000" stroke-width="1.05"/>
<path d="M201.97,448.75V451.35" stroke="#000" stroke-width="1"/>
<text transform="translate(203.17,454.35) rotate(-45)" font-size="5.1" font-weight="bold" text-anchor="end" stroke="#000" stroke-width="0.05">CQ</text>
<path d="M219.49,435.1V429.5M216.29,429.5H222.69" stroke="#000" stroke-width="1.0" fill="none"/>
<rect x="213.71" y="435.62" width="11.55" height="13.12" fill="url(#p_checkerB)" stroke="#000" stroke-width="1.05"/>
<path d="M219.49,448.75V451.35" stroke="#000" stroke-width="1"/>
<text transform="translate(220.69,454.35) rotate(-45)" font-size="5.1" font-weight="bold" text-anchor="end" stroke="#000" stroke-width="0.05">3-MA</text>
<path d="M237.01,421.2V415M233.81,415H240.21" stroke="#000" stroke-width="1.0" fill="none"/>
<rect x="231.24" y="421.72" width="11.55" height="27.03" fill="url(#p_hstripe)" stroke="#000" stroke-width="1.05"/>
<path d="M237.01,448.75V451.35" stroke="#000" stroke-width="1"/>
<text transform="translate(238.21,454.35) rotate(-45)" font-size="5.1" font-weight="bold" text-anchor="end" stroke="#000" stroke-width="0.05">SAHA</text>
<path d="M254.53,383.4V380M251.33,380H257.73" stroke="#000" stroke-width="1.0" fill="none"/>
<rect x="248.76" y="383.92" width="11.55" height="64.83" fill="url(#p_vstripe)" stroke="#000" stroke-width="1.05"/>
<path d="M254.53,372.80 L255.21,373.97 L256.53,374.25 L255.63,375.26 L255.77,376.60 L254.53,376.05 L253.30,376.60 L253.44,375.26 L252.54,374.25 L253.86,373.97Z" fill="#000"/>
<path d="M254.53,448.75V451.35" stroke="#000" stroke-width="1"/>
<text transform="translate(255.73,454.35) rotate(-45)" font-size="5.1" font-weight="bold" text-anchor="end" stroke="#000" stroke-width="0.05">CQ + SAHA</text>
<path d="M272.06,394.2V390.8M268.86,390.8H275.26" stroke="#000" stroke-width="1.0" fill="none"/>
<rect x="266.28" y="394.72" width="11.55" height="54.03" fill="url(#p_ldots)" stroke="#000" stroke-width="1.05"/>
<path d="M272.06,384.00 L272.74,385.17 L274.05,385.45 L273.16,386.46 L273.29,387.80 L272.06,387.25 L270.82,387.80 L270.96,386.46 L270.06,385.45 L271.38,385.17Z" fill="#000"/>
<path d="M272.06,448.75V451.35" stroke="#000" stroke-width="1"/>
<text transform="translate(273.26,454.35) rotate(-45)" font-size="5.1" font-weight="bold" text-anchor="end" stroke="#000" stroke-width="0.05">3-MA + SAHA</text>
<path d="M175.6,377.5V448.75H279.5" stroke="#000" stroke-width="1.1" fill="none"/>
<path d="M173,448.75H175.6" stroke="#000" stroke-width="1"/>
<text x="172.92" y="450.34" font-size="5.3" font-weight="normal" text-anchor="end" letter-spacing="-0.42" stroke="#000" stroke-width="0.2">0</text>
<path d="M173,434.62H175.6" stroke="#000" stroke-width="1"/>
<text x="172.92" y="436.21" font-size="5.3" font-weight="normal" text-anchor="end" letter-spacing="-0.42" stroke="#000" stroke-width="0.2">20</text>
<path d="M173,420.49H175.6" stroke="#000" stroke-width="1"/>
<text x="172.92" y="422.08" font-size="5.3" font-weight="normal" text-anchor="end" letter-spacing="-0.42" stroke="#000" stroke-width="0.2">40</text>
<path d="M173,406.36H175.6" stroke="#000" stroke-width="1"/>
<text x="172.92" y="407.95" font-size="5.3" font-weight="normal" text-anchor="end" letter-spacing="-0.42" stroke="#000" stroke-width="0.2">60</text>
<path d="M173,392.23H175.6" stroke="#000" stroke-width="1"/>
<text x="172.92" y="393.82" font-size="5.3" font-weight="normal" text-anchor="end" letter-spacing="-0.42" stroke="#000" stroke-width="0.2">80</text>
<path d="M173,378.1H175.6" stroke="#000" stroke-width="1"/>
<text x="172.92" y="379.69" font-size="5.3" font-weight="normal" text-anchor="end" letter-spacing="-0.42" stroke="#000" stroke-width="0.2">100</text></g>
<g><text x="377.9" y="374.8" font-size="8.4" font-weight="bold" text-anchor="middle" stroke="#000" stroke-width="0.25">Ba/F3 T315I</text>
<text x="377.6" y="383.8" font-size="8.4" font-weight="bold" text-anchor="middle" stroke="#000" stroke-width="0.25">+ IL-3</text>
<text transform="translate(313.5,415.4) rotate(-90)" font-size="7.44" font-weight="bold" text-anchor="middle">% Sub G<tspan font-size="5.13" dy="1.66">0</tspan><tspan dy="-1.66">/G</tspan><tspan font-size="5.13" dy="1.66">1</tspan></text>
<path d="M336.06,447V444.5M332.86,444.5H339.26" stroke="#000" stroke-width="1.0" fill="none"/>
<rect x="330.58" y="447.52" width="10.95" height="1.88" fill="#fff" stroke="#000" stroke-width="1.05"/>
<path d="M336.06,449.4V452" stroke="#000" stroke-width="1"/>
<text transform="translate(337.26,455.5) rotate(-45)" font-size="4.8" font-weight="bold" text-anchor="end" stroke="#000" stroke-width="0.05">Control</text>
<path d="M352.8,443.75V439.5M349.6,439.5H356" stroke="#000" stroke-width="1.0" fill="none"/>
<rect x="347.33" y="444.27" width="10.95" height="5.12" fill="url(#p_darkB)" stroke="#000" stroke-width="1.05"/>
<path d="M352.8,449.4V452" stroke="#000" stroke-width="1"/>
<text transform="translate(354,455.5) rotate(-45)" font-size="4.8" font-weight="bold" text-anchor="end" stroke="#000" stroke-width="0.05">CQ</text>
<path d="M369.55,438V437.5M366.35,437.5H372.75" stroke="#000" stroke-width="1.0" fill="none"/>
<rect x="364.07" y="438.52" width="10.95" height="10.88" fill="url(#p_checkerB)" stroke="#000" stroke-width="1.05"/>
<path d="M369.55,449.4V452" stroke="#000" stroke-width="1"/>
<text transform="translate(370.75,455.5) rotate(-45)" font-size="4.8" font-weight="bold" text-anchor="end" stroke="#000" stroke-width="0.05">3-MA</text>
<path d="M386.29,422V419.5M383.09,419.5H389.49" stroke="#000" stroke-width="1.0" fill="none"/>
<rect x="380.81" y="422.52" width="10.95" height="26.88" fill="url(#p_hstripe)" stroke="#000" stroke-width="1.05"/>
<path d="M386.29,449.4V452" stroke="#000" stroke-width="1"/>
<text transform="translate(387.49,455.5) rotate(-45)" font-size="4.8" font-weight="bold" text-anchor="end" stroke="#000" stroke-width="0.05">SAHA</text>
<path d="M403.03,385V384.25M399.83,384.25H406.23" stroke="#000" stroke-width="1.0" fill="none"/>
<rect x="397.56" y="385.52" width="10.95" height="63.88" fill="url(#p_vstripe)" stroke="#000" stroke-width="1.05"/>
<path d="M403.03,376.55 L403.71,377.72 L405.03,378.00 L404.13,379.01 L404.27,380.35 L403.03,379.80 L401.80,380.35 L401.93,379.01 L401.03,378.00 L402.35,377.72Z" fill="#000"/>
<path d="M403.03,449.4V452" stroke="#000" stroke-width="1"/>
<text transform="translate(404.23,455.5) rotate(-45)" font-size="4.8" font-weight="bold" text-anchor="end" stroke="#000" stroke-width="0.05">CQ + SAHA</text>
<path d="M419.77,399.5V396.75M416.57,396.75H422.97" stroke="#000" stroke-width="1.0" fill="none"/>
<rect x="414.3" y="400.02" width="10.95" height="49.38" fill="url(#p_ldots)" stroke="#000" stroke-width="1.05"/>
<path d="M419.77,389.80 L420.45,390.97 L421.77,391.25 L420.87,392.26 L421.01,393.60 L419.77,393.05 L418.54,393.60 L418.68,392.26 L417.78,391.25 L419.09,390.97Z" fill="#000"/>
<path d="M419.77,449.4V452" stroke="#000" stroke-width="1"/>
<text transform="translate(420.97,455.5) rotate(-45)" font-size="4.8" font-weight="bold" text-anchor="end" stroke="#000" stroke-width="0.05">3-MA + SAHA</text>
<path d="M328,381.7V449.4H427" stroke="#000" stroke-width="1.1" fill="none"/>
<path d="M325.4,449.4H328" stroke="#000" stroke-width="1"/>
<text x="325.32" y="450.99" font-size="5.3" font-weight="normal" text-anchor="end" letter-spacing="-0.42" stroke="#000" stroke-width="0.2">0</text>
<path d="M325.4,435.98H328" stroke="#000" stroke-width="1"/>
<text x="325.32" y="437.57" font-size="5.3" font-weight="normal" text-anchor="end" letter-spacing="-0.42" stroke="#000" stroke-width="0.2">20</text>
<path d="M325.4,422.56H328" stroke="#000" stroke-width="1"/>
<text x="325.32" y="424.15" font-size="5.3" font-weight="normal" text-anchor="end" letter-spacing="-0.42" stroke="#000" stroke-width="0.2">40</text>
<path d="M325.4,409.14H328" stroke="#000" stroke-width="1"/>
<text x="325.32" y="410.73" font-size="5.3" font-weight="normal" text-anchor="end" letter-spacing="-0.42" stroke="#000" stroke-width="0.2">60</text>
<path d="M325.4,395.72H328" stroke="#000" stroke-width="1"/>
<text x="325.32" y="397.31" font-size="5.3" font-weight="normal" text-anchor="end" letter-spacing="-0.42" stroke="#000" stroke-width="0.2">80</text>
<path d="M325.4,382.3H328" stroke="#000" stroke-width="1"/>
<text x="325.32" y="383.89" font-size="5.3" font-weight="normal" text-anchor="end" letter-spacing="-0.42" stroke="#000" stroke-width="0.2">100</text></g>
</svg>
</body></html>
